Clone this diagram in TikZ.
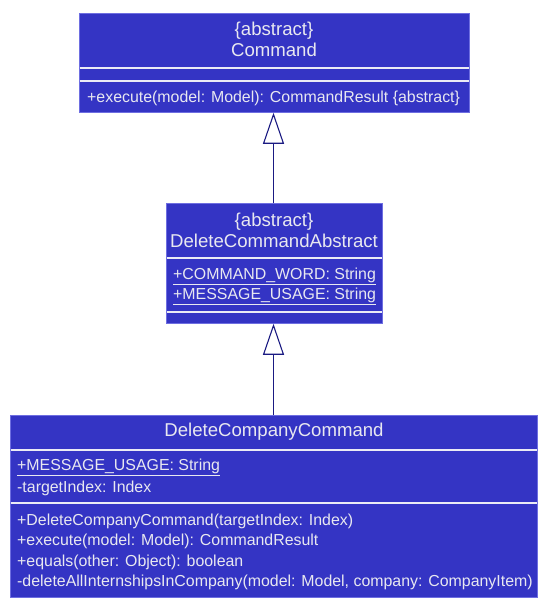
\documentclass[tikz,border=0pt]{standalone}
\usepackage{fontspec}
\setmainfont{Liberation Sans}
\usetikzlibrary{arrows.meta}
\definecolor{boxfill}{RGB}{52,52,196}
\definecolor{boxedge}{RGB}{110,110,225}
\definecolor{sepcol}{RGB}{235,235,245}
\definecolor{txtcol}{RGB}{232,232,240}
\definecolor{linecol}{RGB}{26,26,130}
\begin{document}
\begin{tikzpicture}[x=1pt,y=-1pt,
  classbox/.style={draw=boxedge, fill=boxfill, line width=0.8pt, anchor=north west, inner sep=0pt},
  sepline/.style={draw=sepcol, line width=1.2pt},
  title/.style={text=txtcol, font=\fontsize{18.6}{22}\selectfont, align=center, inner sep=0pt},
  member/.style={text=txtcol, font=\fontsize{15.9}{20}\selectfont, anchor=west, inner sep=0pt},
  inherit/.style={draw=linecol, line width=1.1pt, -{Triangle[open, length=31pt, width=21pt, fill=white]}}]
\useasboundingbox (0,0) rectangle (553,613);
% Command
\node[classbox, minimum width=390pt, minimum height=99pt] (cmd) at (79,13) {};
\draw[sepline] (79.5,68) -- (468.5,68);
\draw[sepline] (79.5,81) -- (468.5,81);
\node[title] (cmdt1) at (274,31) {\{abstract\}};
\node[title] (cmdt2) at (274,50) {Command};
\node[member] (cmdm1) at (87,98) {+execute(model: Model): CommandResult \{abstract\}};
% DeleteCommandAbstract
\node[classbox, minimum width=216pt, minimum height=120pt] (dca) at (166,203) {};
\draw[sepline] (166.5,258) -- (381.5,258);
\draw[sepline] (166.5,312) -- (381.5,312);
\node[title] (dcat1) at (274,222) {\{abstract\}};
\node[title] (dcat2) at (274,241) {DeleteCommandAbstract};
\node[member] (dcaa1) at (173,276) {\underline{+COMMAND\_WORD: String}};
\node[member] (dcaa2) at (173,296) {\underline{+MESSAGE\_USAGE: String}};
% DeleteCompanyCommand
\node[classbox, minimum width=527pt, minimum height=182pt] (dcc) at (10,415) {};
\draw[sepline] (10.5,450) -- (536.5,450);
\draw[sepline] (10.5,503) -- (536.5,503);
\node[title] (dcct) at (274,432) {DeleteCompanyCommand};
\node[member] (dcca1) at (17,467) {\underline{+MESSAGE\_USAGE: String}};
\node[member] (dcca2) at (17,488) {-targetIndex: Index};
\node[member] (dccm1) at (17,521) {+DeleteCompanyCommand(targetIndex: Index)};
\node[member] (dccm2) at (17,541) {+execute(model: Model): CommandResult};
\node[member] (dccm3) at (17,562) {+equals(other: Object): boolean};
\node[member] (dccm4) at (17,582) {-deleteAllInternshipsInCompany(model: Model, company: CompanyItem)};
% inheritance
\draw[inherit] (dca.north -| 273.5,0) -- (cmd.south -| 273.5,0);
\draw[inherit] (dcc.north -| 273.5,0) -- (dca.south -| 273.5,0);
\end{tikzpicture}
\end{document}
